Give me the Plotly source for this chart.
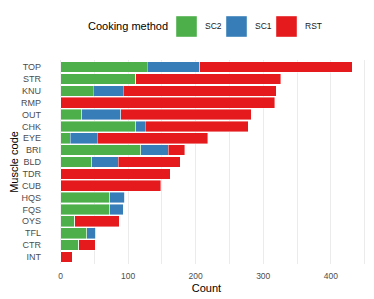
import plotly.graph_objects as go

muscle_codes = ["TOP", "STR", "KNU", "RMP", "OUT", "CHK", "EYE", "BRI", "BLD",
                "TDR", "CUB", "HQS", "FQS", "OYS", "TFL", "CTR", "INT"]
sc2 = [128, 111, 48, 0, 31, 111, 14, 119, 46, 0, 0, 73, 73, 21, 39, 27, 0]
sc1 = [78, 0, 45, 0, 58, 14, 40, 40, 39, 0, 0, 22, 20, 0, 13, 0, 0]
rst = [226, 215, 226, 317, 193, 153, 164, 25, 92, 162, 148, 0, 0, 66, 0, 24, 17]

methods = ["SC2", "SC1", "RST"]
colors = {"SC2": "#4DAF4A", "SC1": "#377EB8", "RST": "#E41A1C"}
values = {"SC2": sc2, "SC1": sc1, "RST": rst}

x_tickvals = [0, 50, 100, 150, 200, 250, 300, 350, 400, 450]
x_ticktext = ["0", "", "100", "", "200", "", "300", "", "400", ""]

fig = go.Figure()
for m in methods:
    fig.add_trace(go.Bar(
        y=muscle_codes, x=values[m], orientation="h", name=m,
        marker=dict(color=colors[m], line=dict(color="rgba(255,255,255,0.7)", width=0.6)),
        width=0.9, showlegend=False,
    ))

totals = [a + b + c for a, b, c in zip(sc2, sc1, rst)]
xmax = max(totals)

# page has an 8px body margin; figure placed at (8, 8)
OFF = 8
W, H = 374 - OFF, 299 - OFF
L, R, T, B = 46 - OFF, 7, 60 - OFF, 35
PW, PH = W - L - R, H - T - B

fig.update_layout(
    width=W, height=H,
    margin=dict(l=L, r=R, t=T, b=B, autoexpand=False),
    barmode="stack",
    plot_bgcolor="white", paper_bgcolor="white",
    font=dict(family="Liberation Sans, Arial, sans-serif", color="#4d4d4d", size=9),
    xaxis=dict(
        range=[-0.05 * xmax, 1.05 * xmax],
        tickvals=x_tickvals, ticktext=x_ticktext,
        showgrid=True, gridcolor="#ebebeb", gridwidth=1,
        zeroline=False, showline=False,
        ticks="outside", ticklen=4, tickcolor="rgba(0,0,0,0)",
        automargin=False,
        tickfont=dict(size=8.5, color="#4d4d4d"),
        title=dict(text="Count", font=dict(size=11, color="black"), standoff=4),
    ),
    yaxis=dict(
        categoryorder="array", categoryarray=muscle_codes[::-1],
        range=[-0.6, len(muscle_codes) - 0.4],
        showgrid=False, zeroline=False, showline=False, ticks="",
        automargin=False, ticklabelstandoff=4,
        tickfont=dict(size=9, color="#4d4d4d"),
        title=dict(text="Muscle code", font=dict(size=11, color="black"), standoff=4),
    ),
)

# Manual legend (title + large key squares), positions in page pixels
def px_x(p):
    return (p - OFF - L) / PW

def px_y(p):
    return 1 + (T - (p - OFF)) / PH

fig.add_annotation(text="Cooking method", xref="paper", yref="paper",
                   x=px_x(170), y=px_y(26), xanchor="right", yanchor="middle",
                   showarrow=False, font=dict(size=11, color="black"))
key_x = [176, 226, 276]
for m, kx in zip(methods, key_x):
    fig.add_shape(type="rect", xref="paper", yref="paper",
                  x0=px_x(kx), x1=px_x(kx + 21),
                  y0=px_y(37), y1=px_y(16),
                  fillcolor=colors[m], line=dict(color="rgba(255,255,255,0.7)", width=0.6))
    fig.add_annotation(text=m, xref="paper", yref="paper",
                       x=px_x(kx + 27), y=px_y(26),
                       xanchor="left", yanchor="middle", showarrow=False,
                       font=dict(size=8.5, color="#1a1a1a"))

fig.write_html("out.html")
